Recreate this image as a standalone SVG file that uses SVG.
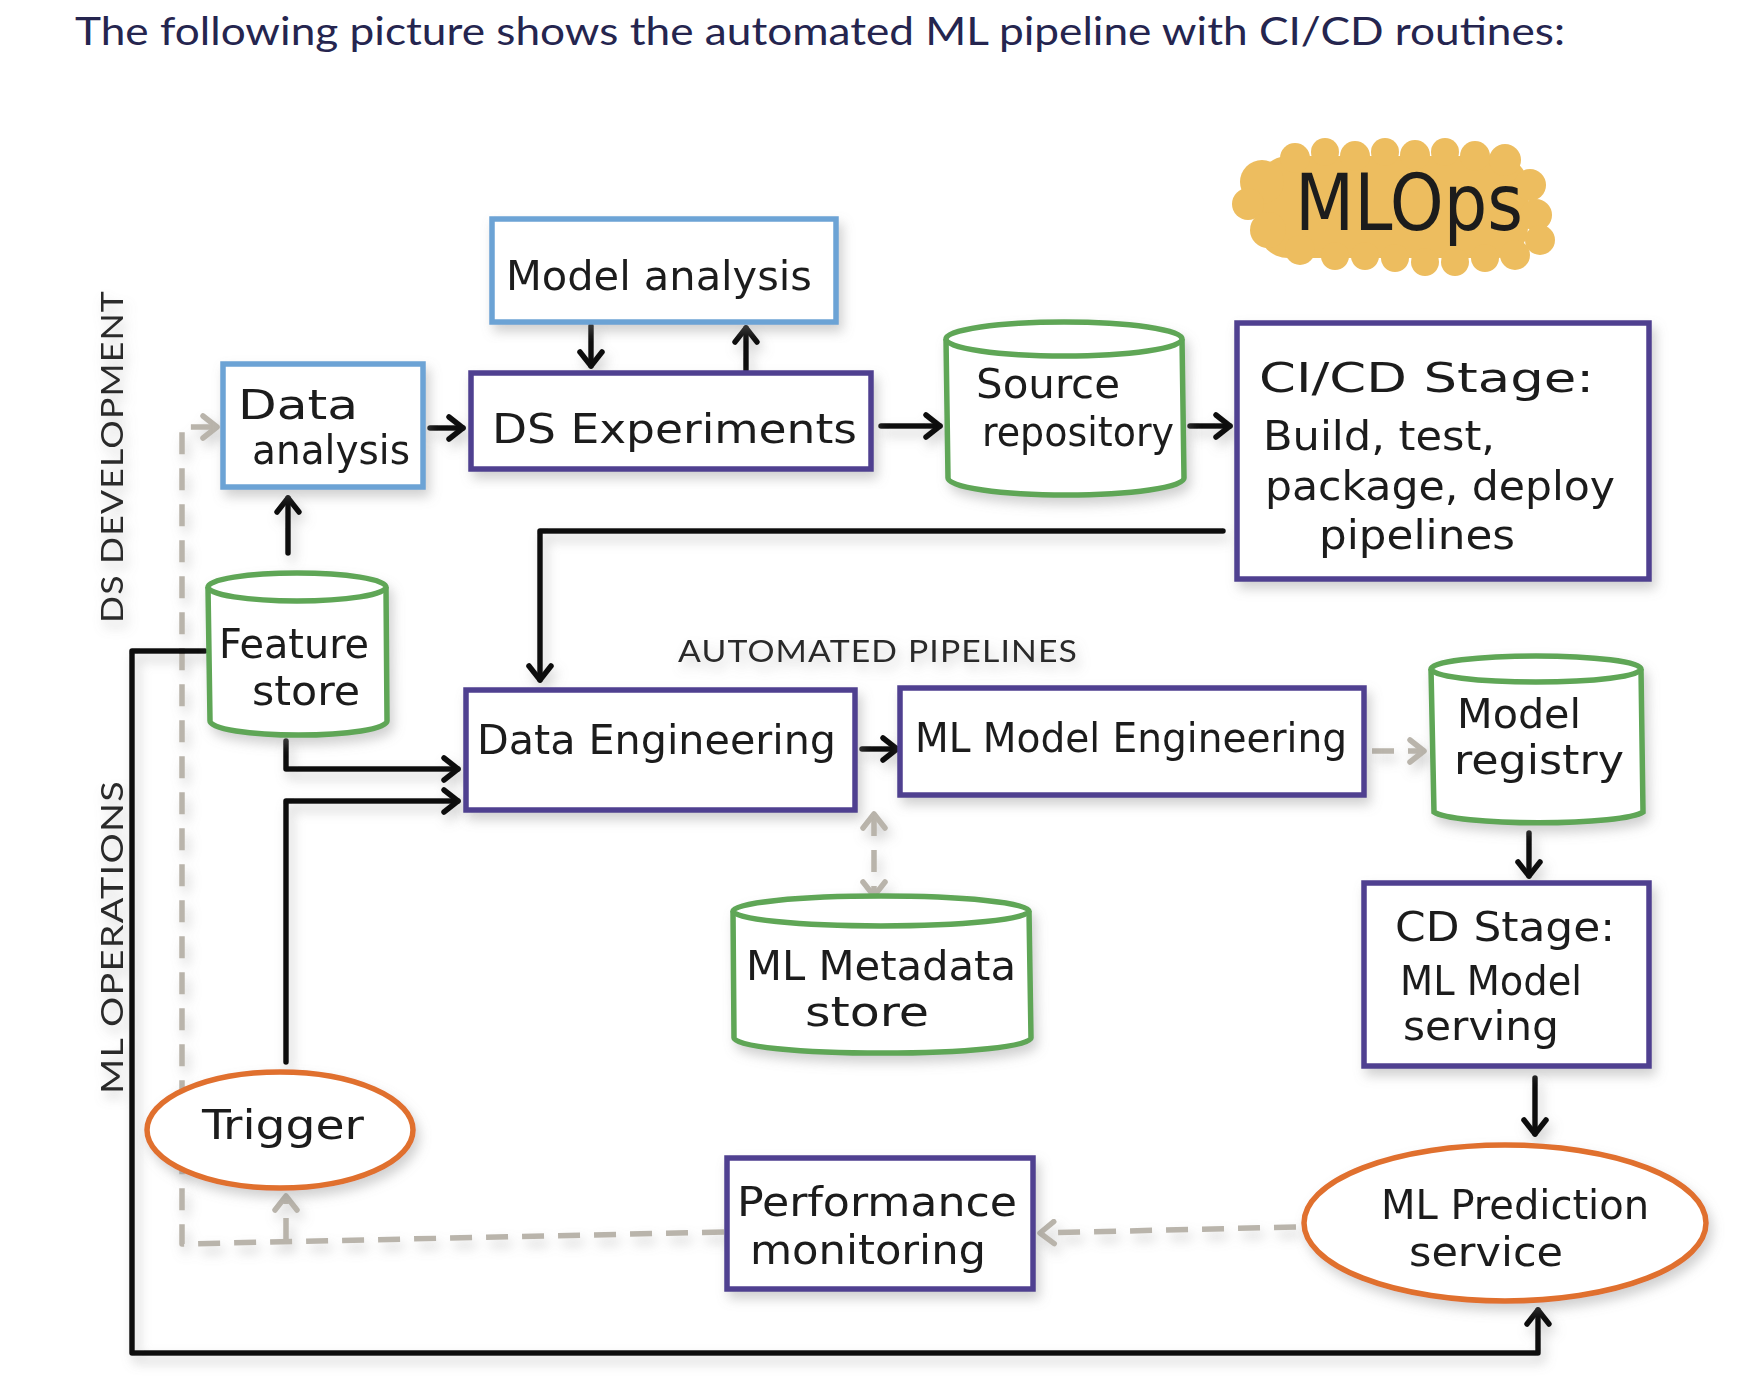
<svg xmlns="http://www.w3.org/2000/svg" width="1760" height="1394" viewBox="0 0 1760 1394">
<style>
.t{font-family:"DejaVu Sans Condensed","DejaVu Sans",sans-serif;fill:#1c1c1c;font-size:40px}
.lab{font-family:"Lato","Noto Sans",sans-serif;fill:#2a2a2a;font-size:30px;letter-spacing:1px}
.bx{fill:#fff;stroke-width:5.5}
.blue{stroke:#6ca3d5}
.pur{stroke:#4f3f90}
.grn{stroke:#5ea657}
.org{stroke:#e06f2e}
.ln{fill:none;stroke:#111;stroke-width:5.5;stroke-linecap:round;stroke-linejoin:round}
.dl{fill:none;stroke:#b9b4ab;stroke-width:5.5;stroke-dasharray:22 14;stroke-linejoin:round}
</style>
<defs>
<filter id="sh" x="-20%" y="-20%" width="140%" height="140%">
<feGaussianBlur in="SourceAlpha" stdDeviation="6" result="b"/>
<feOffset in="b" dx="4" dy="7" result="o"/>
<feFlood flood-color="#8a8a8a" flood-opacity="0.4"/>
<feComposite in2="o" operator="in" result="s"/>
<feMerge><feMergeNode in="s"/><feMergeNode in="SourceGraphic"/></feMerge>
</filter>
<marker id="ah" markerUnits="userSpaceOnUse" markerWidth="26" markerHeight="28" refX="20" refY="14" orient="auto-start-reverse">
<path d="M6,3 L20,14 L6,25" fill="none" stroke="#111" stroke-width="5.5" stroke-linecap="round" stroke-linejoin="round"/>
</marker>
<marker id="ag" markerUnits="userSpaceOnUse" markerWidth="26" markerHeight="28" refX="20" refY="14" orient="auto-start-reverse">
<path d="M6,3 L20,14 L6,25" fill="none" stroke="#b9b4ab" stroke-width="5.5" stroke-linecap="round" stroke-linejoin="round"/>
</marker>
</defs>
<rect width="1760" height="1394" fill="#fff"/>
<text x="75" y="45" font-family="Lato,'Noto Sans',sans-serif" font-size="38" fill="#25254f" textLength="1490" lengthAdjust="spacingAndGlyphs">The following picture shows the automated ML pipeline with CI/CD routines:</text>

<g id="labels" filter="url(#sh)">
<text class="lab" transform="translate(123,623) rotate(-90)" textLength="333" lengthAdjust="spacingAndGlyphs">DS DEVELOPMENT</text>
<text class="lab" transform="translate(123,1094) rotate(-90)" textLength="314" lengthAdjust="spacingAndGlyphs">ML OPERATIONS</text>
<text class="lab" x="678" y="662" font-size="28" textLength="400" lengthAdjust="spacingAndGlyphs">AUTOMATED  PIPELINES</text>
</g>

<g id="mlops">
<g fill="#edbd5f">
<rect x="1258" y="156" width="270" height="102" rx="30"/>
<circle cx="1262" cy="182" r="22"/><circle cx="1248" cy="204" r="16"/><circle cx="1268" cy="230" r="18"/>
<circle cx="1295" cy="158" r="15"/><circle cx="1325" cy="152" r="14"/><circle cx="1355" cy="156" r="15"/>
<circle cx="1385" cy="152" r="14"/><circle cx="1415" cy="155" r="15"/><circle cx="1445" cy="152" r="14"/>
<circle cx="1475" cy="156" r="15"/><circle cx="1505" cy="160" r="16"/>
<circle cx="1530" cy="185" r="16"/><circle cx="1536" cy="215" r="16"/><circle cx="1540" cy="240" r="15"/><circle cx="1515" cy="255" r="15"/>
<circle cx="1485" cy="258" r="14"/><circle cx="1455" cy="262" r="14"/><circle cx="1425" cy="262" r="14"/><circle cx="1395" cy="258" r="14"/>
<circle cx="1365" cy="256" r="14"/><circle cx="1335" cy="256" r="14"/><circle cx="1300" cy="250" r="15"/>
</g>
<text x="1409" y="230" text-anchor="middle" font-family="'DejaVu Sans Condensed','DejaVu Sans',sans-serif" font-size="78" fill="#1c1c1c" textLength="228" lengthAdjust="spacingAndGlyphs">MLOps</text>
</g>

<g id="connectors" filter="url(#sh)">
<path class="ln" d="M430,428 L463,428" marker-end="url(#ah)"/>
<path class="ln" d="M591,326 L591,366" marker-end="url(#ah)"/>
<path class="ln" d="M746,370 L746,328" marker-end="url(#ah)"/>
<path class="ln" d="M881,426 L940,426" marker-end="url(#ah)"/>
<path class="ln" d="M1190,426 L1230,426" marker-end="url(#ah)"/>
<path class="ln" d="M1223,531 L540,531 L540,680" marker-end="url(#ah)"/>
<path class="ln" d="M288,553 L288,498" marker-end="url(#ah)"/>
<path class="ln" d="M286,741 L286,769 L458,769" marker-end="url(#ah)"/>
<path class="ln" d="M286,1062 L286,801 L458,801" marker-end="url(#ah)"/>
<path class="ln" d="M862,749 L897,749" marker-end="url(#ah)"/>
<path class="dl" d="M1372,751 L1424,751" stroke-dasharray="14 8" marker-end="url(#ag)"/>
<path class="dl" d="M874,814 L874,896" stroke-dasharray="14 10" marker-start="url(#ag)" marker-end="url(#ag)"/>
<path class="ln" d="M1529,833 L1529,876" marker-end="url(#ah)"/>
<path class="ln" d="M1535,1078 L1535,1134" marker-end="url(#ah)"/>
<path class="dl" d="M1296,1227 L1040,1233" marker-end="url(#ag)"/>
<path class="dl" d="M724,1232 L182,1244 L182,427 L217,427" marker-end="url(#ag)"/>
<path class="dl" d="M286,1240 L286,1196" stroke-dasharray="none" marker-end="url(#ag)"/>
<path class="ln" d="M205,651 L132,651 L132,1353 L1538,1353 L1538,1310" marker-end="url(#ah)"/>
</g>

<g id="model-analysis" filter="url(#sh)">
<rect class="bx blue" x="492" y="219" width="344" height="103"/>
<text class="t" x="506" y="290" font-size="50" textLength="306" lengthAdjust="spacingAndGlyphs">Model  analysis</text>
</g>
<g id="data-analysis" filter="url(#sh)">
<rect class="bx blue" x="223" y="364" width="200" height="123"/>
<text class="t" x="238" y="419" font-size="38" textLength="120" lengthAdjust="spacingAndGlyphs">Data</text>
<text class="t" x="252" y="464" font-size="38" textLength="158" lengthAdjust="spacingAndGlyphs">analysis</text>
</g>
<g id="ds-experiments" filter="url(#sh)">
<rect class="bx pur" x="471" y="373" width="400" height="96"/>
<text class="t" x="492" y="443" font-size="48" textLength="365" lengthAdjust="spacingAndGlyphs">DS Experiments</text>
</g>
<g id="source-repository" filter="url(#sh)">
<path class="bx grn" d="M946,339 L948,478 A118,17 0 0 0 1184,478 L1182,339"/>
<ellipse class="bx grn" cx="1064" cy="339" rx="118" ry="17"/>
<text class="t" x="976" y="398" textLength="144" lengthAdjust="spacingAndGlyphs">Source</text>
<text class="t" x="982" y="446" textLength="192" lengthAdjust="spacingAndGlyphs">repository</text>
</g>
<g id="cicd-stage" filter="url(#sh)">
<rect class="bx pur" x="1237" y="323" width="412" height="256"/>
<text class="t" x="1259" y="392" font-size="46" textLength="335" lengthAdjust="spacingAndGlyphs">CI/CD Stage:</text>
<text class="t" x="1263" y="450" textLength="232" lengthAdjust="spacingAndGlyphs">Build, test,</text>
<text class="t" x="1265" y="500" textLength="350" lengthAdjust="spacingAndGlyphs">package, deploy</text>
<text class="t" x="1319" y="549" textLength="196" lengthAdjust="spacingAndGlyphs">pipelines</text>
</g>
<g id="feature-store" filter="url(#sh)">
<path class="bx grn" d="M208,587 L210,721 A88,14 0 0 0 387,721 L386,587"/>
<ellipse class="bx grn" cx="297" cy="587" rx="89" ry="14"/>
<text class="t" x="219" y="658" textLength="150" lengthAdjust="spacingAndGlyphs">Feature</text>
<text class="t" x="252" y="705" textLength="108" lengthAdjust="spacingAndGlyphs">store</text>
</g>
<g id="data-engineering" filter="url(#sh)">
<rect class="bx pur" x="466" y="690" width="389" height="120"/>
<text class="t" x="477" y="754" font-size="50" textLength="359" lengthAdjust="spacingAndGlyphs">Data Engineering</text>
</g>
<g id="ml-model-engineering" filter="url(#sh)">
<rect class="bx pur" x="900" y="688" width="464" height="107"/>
<text class="t" x="915" y="752" font-size="50" textLength="432" lengthAdjust="spacingAndGlyphs">ML Model Engineering</text>
</g>
<g id="model-registry" filter="url(#sh)">
<path class="bx grn" d="M1431,669 L1434,812 A106,13 0 0 0 1643,812 L1641,669"/>
<ellipse class="bx grn" cx="1536" cy="669" rx="105" ry="13"/>
<text class="t" x="1457" y="728" font-size="38" textLength="124" lengthAdjust="spacingAndGlyphs">Model</text>
<text class="t" x="1454" y="774" font-size="38" textLength="170" lengthAdjust="spacingAndGlyphs">registry</text>
</g>
<g id="ml-metadata-store" filter="url(#sh)">
<path class="bx grn" d="M733,911 L734,1038 A148,15 0 0 0 1031,1038 L1029,911"/>
<ellipse class="bx grn" cx="881" cy="911" rx="148" ry="15"/>
<text class="t" x="746" y="980" font-size="38" textLength="270" lengthAdjust="spacingAndGlyphs">ML Metadata</text>
<text class="t" x="805" y="1026" font-size="38" textLength="124" lengthAdjust="spacingAndGlyphs">store</text>
</g>
<g id="cd-stage" filter="url(#sh)">
<rect class="bx pur" x="1364" y="883" width="285" height="183"/>
<text class="t" x="1395" y="941" font-size="44" textLength="220" lengthAdjust="spacingAndGlyphs">CD Stage:</text>
<text class="t" x="1400" y="995" font-size="38" textLength="182" lengthAdjust="spacingAndGlyphs">ML Model</text>
<text class="t" x="1403" y="1040" font-size="38" textLength="156" lengthAdjust="spacingAndGlyphs">serving</text>
</g>
<g id="trigger" filter="url(#sh)">
<ellipse class="bx org" cx="280" cy="1130" rx="133" ry="58"/>
<text class="t" x="283" y="1139" text-anchor="middle" font-size="46" textLength="162" lengthAdjust="spacingAndGlyphs">Trigger</text>
</g>
<g id="performance-monitoring" filter="url(#sh)">
<rect class="bx pur" x="727" y="1158" width="306" height="131"/>
<text class="t" x="737" y="1216" textLength="280" lengthAdjust="spacingAndGlyphs">Performance</text>
<text class="t" x="750" y="1264" textLength="236" lengthAdjust="spacingAndGlyphs">monitoring</text>
</g>
<g id="ml-prediction-service" filter="url(#sh)">
<ellipse class="bx org" cx="1505" cy="1223" rx="201" ry="78"/>
<text class="t" x="1381" y="1219" textLength="268" lengthAdjust="spacingAndGlyphs">ML Prediction</text>
<text class="t" x="1409" y="1266" textLength="154" lengthAdjust="spacingAndGlyphs">service</text>
</g>
</svg>
